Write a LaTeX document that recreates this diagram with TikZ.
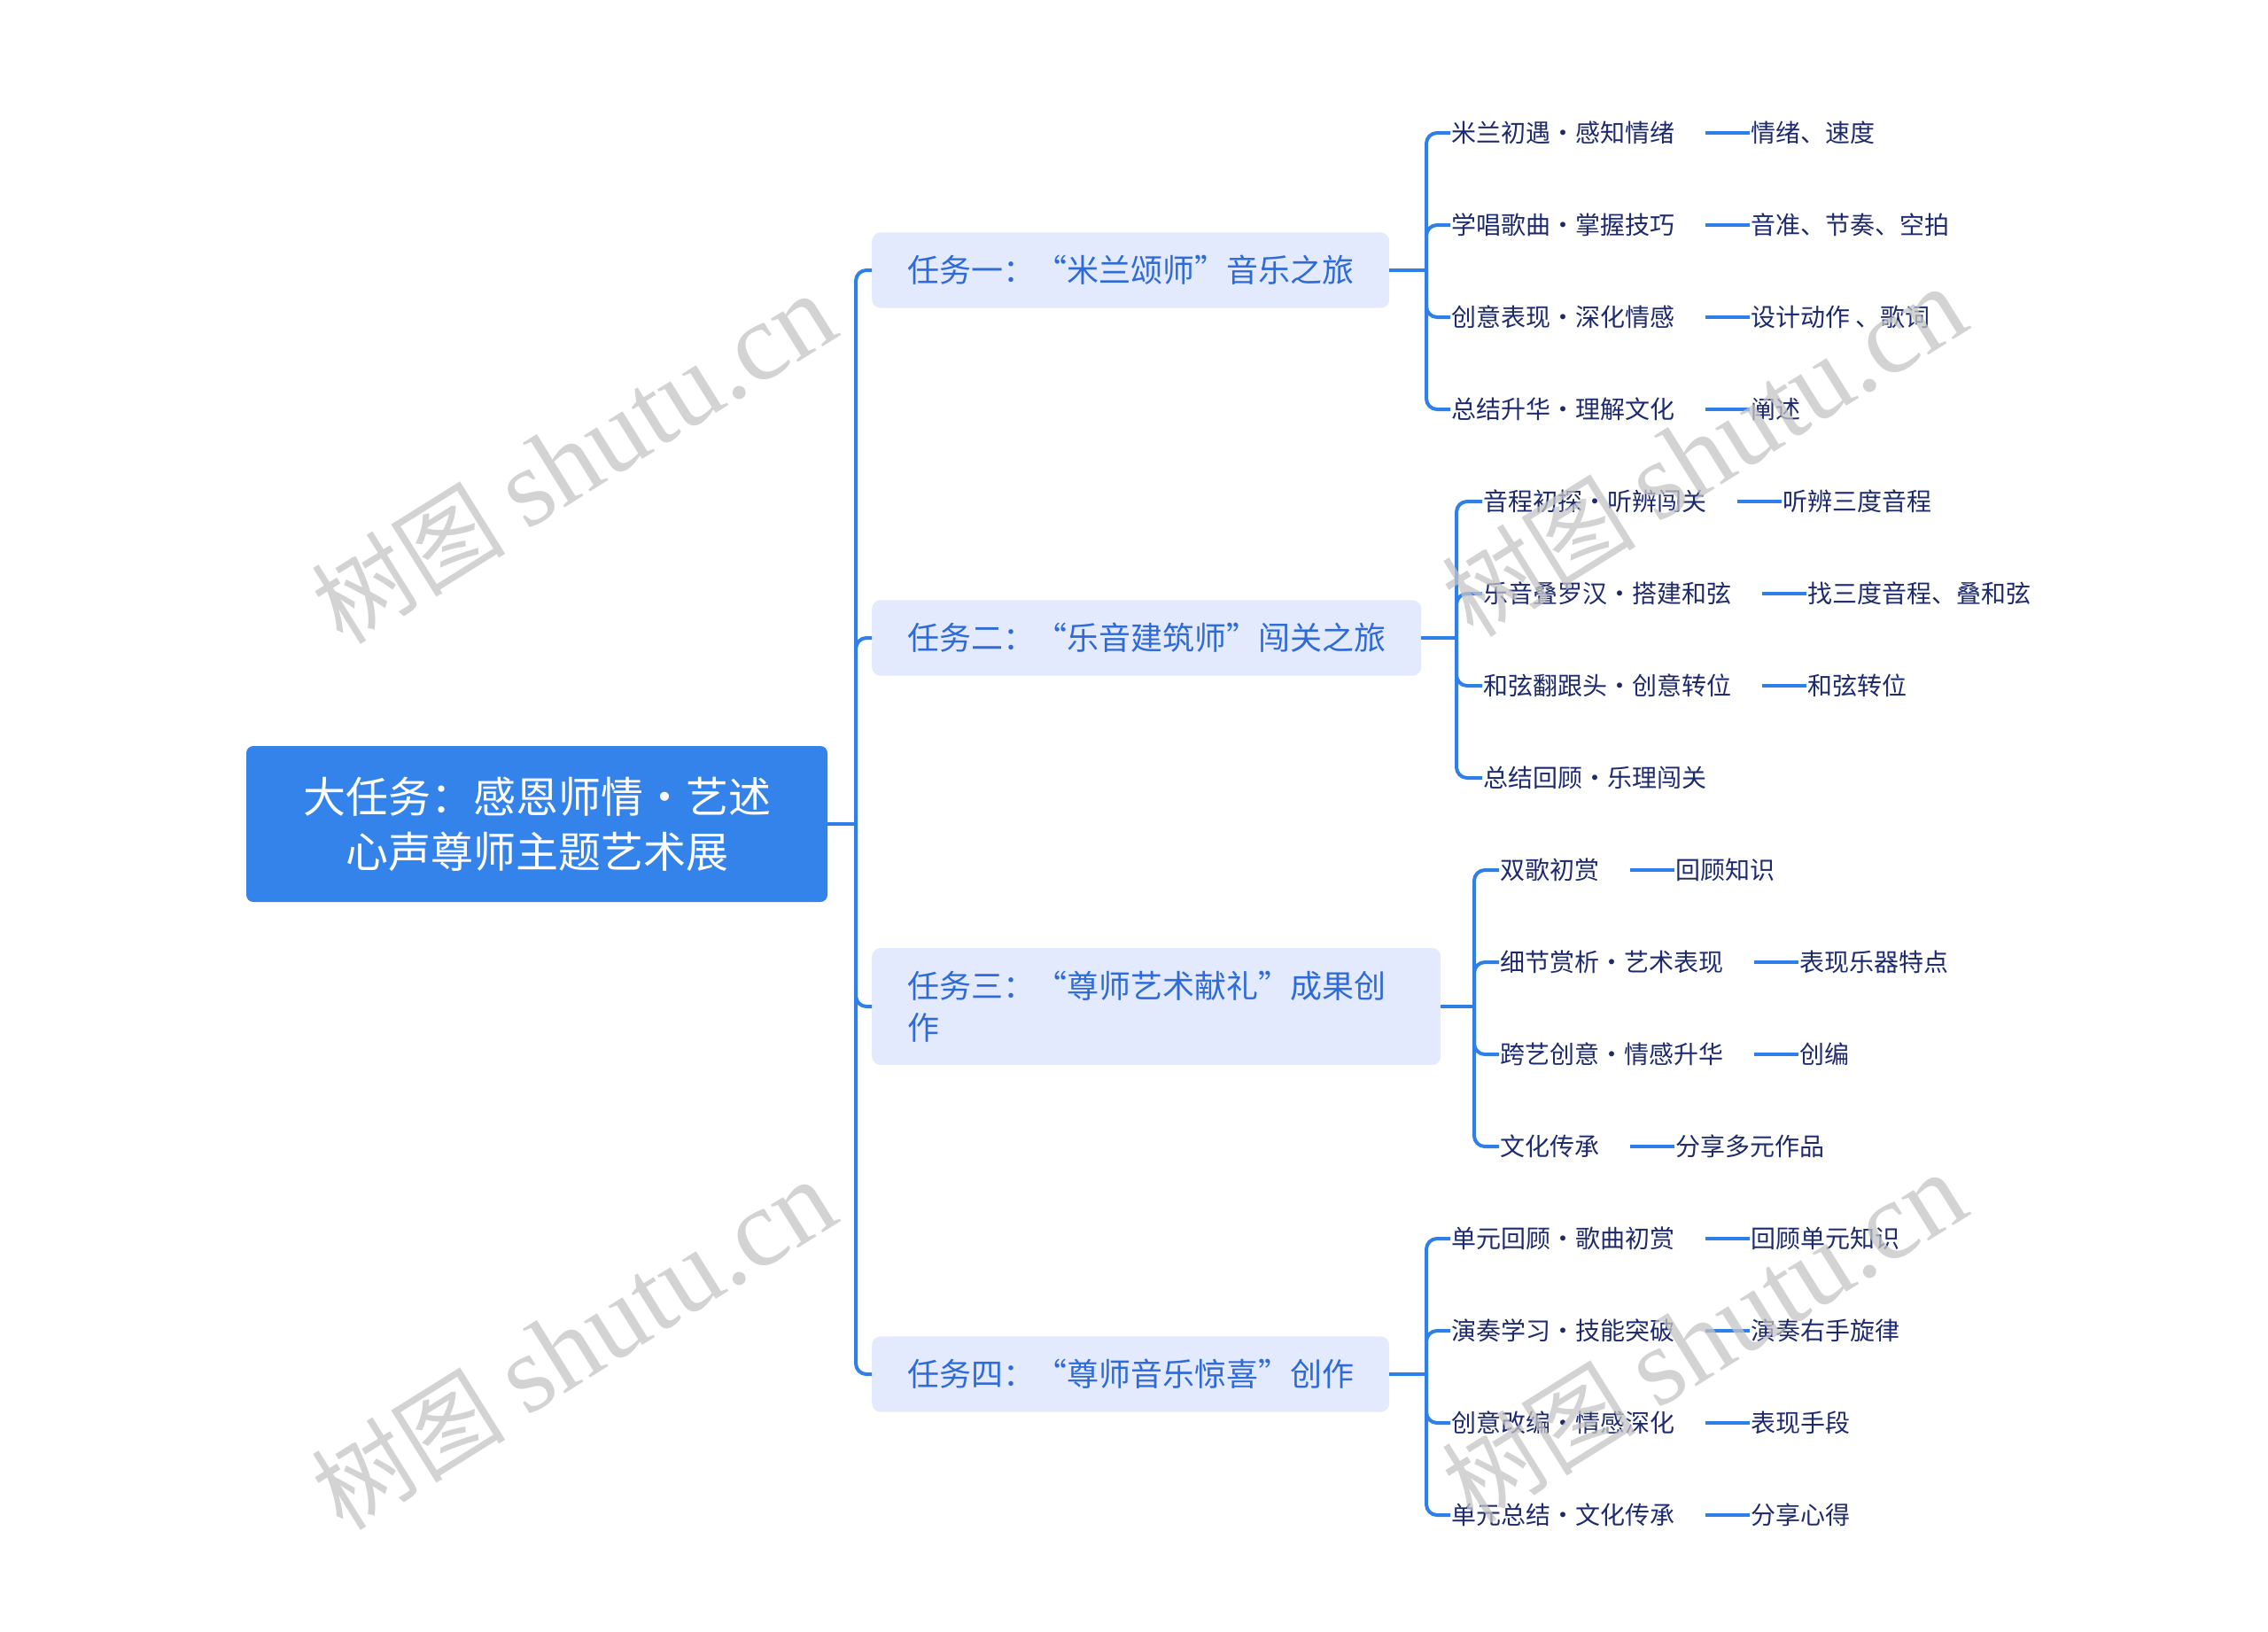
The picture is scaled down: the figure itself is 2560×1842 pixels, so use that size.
\documentclass[tikz,border=0pt]{standalone}
\usepackage{fontspec}
\setmainfont{Noto Sans CJK SC}
\newfontfamily\wmlatin{Liberation Serif}
\usetikzlibrary{positioning}
\definecolor{linkblue}{HTML}{2F7FE8}
\definecolor{rootblue}{HTML}{3383EA}
\definecolor{taskfill}{HTML}{E4EAFD}
\definecolor{tasktext}{HTML}{2F6BD6}
\definecolor{leafnavy}{HTML}{1E2A6E}
\definecolor{wmgray}{HTML}{C4C4C4}

\begin{document}
\begin{tikzpicture}[x=1pt, y=-1pt,
  link/.style={draw=linkblue, line width=4pt, rounded corners=12pt},
  rootbox/.style={fill=rootblue, text=white, rounded corners=8pt, minimum width=656pt, minimum height=176pt, align=center, font=\fontsize{48}{62}\selectfont},
  taskbox/.style={fill=taskfill, text=tasktext, rounded corners=10pt, anchor=west, inner xsep=40pt, inner ysep=26pt, align=left, font=\fontsize{36}{47}\selectfont},
  subitem/.style={anchor=west, inner sep=1pt, text=leafnavy, font=\fontsize{28}{32}\selectfont},
  leafitem/.style={inner sep=1pt, text=leafnavy, font=\fontsize{28}{32}\selectfont},
  wmark/.style={rotate=32, text=wmgray, opacity=0.75, font=\fontsize{110}{110}\selectfont}]
\useasboundingbox (0,0) rectangle (2560,1842);

% centre and the four tasks
\node[rootbox] (root) at (606,930) {大任务：感恩师情·艺述\\心声尊师主题艺术展};
\node[taskbox] (t1) at (984,305) {任务一：“米兰颂师”音乐之旅};
\node[taskbox] (t2) at (984,720) {任务二：“乐音建筑师”闯关之旅};
\node[taskbox, text width=562pt] (t3) at (984,1136) {任务三：“尊师艺术献礼”成果创\\作};
\node[taskbox] (t4) at (984,1551) {任务四：“尊师音乐惊喜”创作};

\coordinate (hub) at (966,930);
\draw[link] (root.east) -- (hub);
\foreach \t in {t1,t2,t3,t4} \draw[link] (hub) |- (\t.west);

% task 1
\coordinate (b1) at (1610,305);
\draw[link] (t1.east) -- (b1);
\foreach \sub/\leaf [count=\i] in {米兰初遇·感知情绪/情绪、速度, 学唱歌曲·掌握技巧/音准、节奏、空拍, 创意表现·深化情感/设计动作 、歌词, 总结升华·理解文化/阐述} {
  \node[subitem] (s1-\i) at (1637,{150+104*(\i-1)}) {\sub};
  \node[leafitem, right=84pt of s1-\i] (l1-\i) {\leaf};
  \draw[link] (b1) |- (s1-\i.west);
  \draw[link, shorten <=34pt] (s1-\i) -- (l1-\i);
}

% task 2
\coordinate (b2) at (1644,720);
\draw[link] (t2.east) -- (b2);
\foreach \sub/\leaf [count=\i] in {音程初探·听辨闯关/听辨三度音程, 乐音叠罗汉·搭建和弦/找三度音程、叠和弦, 和弦翻跟头·创意转位/和弦转位} {
  \node[subitem] (s2-\i) at (1673,{566+104*(\i-1)}) {\sub};
  \node[leafitem, right=84pt of s2-\i] (l2-\i) {\leaf};
  \draw[link] (b2) |- (s2-\i.west);
  \draw[link, shorten <=34pt] (s2-\i) -- (l2-\i);
}
\node[subitem] (s2-4) at (1673,878) {总结回顾·乐理闯关};
\draw[link] (b2) |- (s2-4.west);

% task 3
\coordinate (b3) at (1664,1136);
\draw[link] (t3.east) -- (b3);
\foreach \sub/\leaf [count=\i] in {双歌初赏/回顾知识, 细节赏析·艺术表现/表现乐器特点, 跨艺创意·情感升华/创编, 文化传承/分享多元作品} {
  \node[subitem] (s3-\i) at (1692,{982+104*(\i-1)}) {\sub};
  \node[leafitem, right=84pt of s3-\i] (l3-\i) {\leaf};
  \draw[link] (b3) |- (s3-\i.west);
  \draw[link, shorten <=34pt] (s3-\i) -- (l3-\i);
}

% task 4
\coordinate (b4) at (1610,1551);
\draw[link] (t4.east) -- (b4);
\foreach \sub/\leaf [count=\i] in {单元回顾·歌曲初赏/回顾单元知识, 演奏学习·技能突破/演奏右手旋律, 创意改编·情感深化/表现手段, 单元总结·文化传承/分享心得} {
  \node[subitem] (s4-\i) at (1637,{1398+104*(\i-1)}) {\sub};
  \node[leafitem, right=84pt of s4-\i] (l4-\i) {\leaf};
  \draw[link] (b4) |- (s4-\i.west);
  \draw[link, shorten <=34pt] (s4-\i) -- (l4-\i);
}

% watermarks
\node[wmark] (wm1) at (647,518) {树图 {\wmlatin\fontsize{125}{125}\selectfont shutu.cn}};
\node[wmark] (wm2) at (647,1518) {树图 {\wmlatin\fontsize{125}{125}\selectfont shutu.cn}};
\node[wmark] (wm3) at (1923,510) {树图 {\wmlatin\fontsize{125}{125}\selectfont shutu.cn}};
\node[wmark] (wm4) at (1923,1510) {树图 {\wmlatin\fontsize{125}{125}\selectfont shutu.cn}};
\end{tikzpicture}
\end{document}
